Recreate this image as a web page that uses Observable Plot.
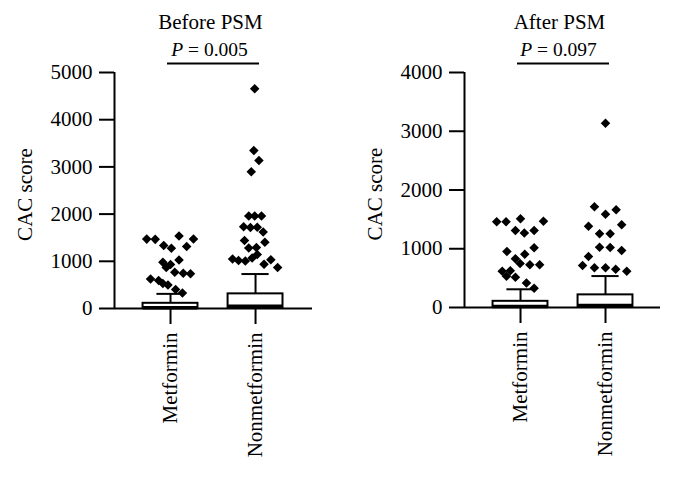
<!DOCTYPE html>
<html><head><meta charset="utf-8">
<script src="https://cdn.jsdelivr.net/npm/d3@7"></script>
<script src="https://cdn.jsdelivr.net/npm/@observablehq/plot@0.6"></script>
<style>
body{margin:0;background:#fff;}
#chart{display:flex;width:675px;height:480px;}
</style></head><body><div id="chart"></div>
<script>
// ---- data ----
const categories = ["Metformin", "Nonmetformin"];
const panelTitles = ["Before PSM", "After PSM"];
const pValues = ["0.005", "0.097"];
const yLabel = "CAC score";
const beforeTicks = [0, 1000, 2000, 3000, 4000, 5000];
const afterTicks = [0, 1000, 2000, 3000, 4000];

// box-plot summaries [Metformin, Nonmetformin]
const beforeQ1 = [0, 0];
const beforeMedian = [15, 50];
const beforeQ3 = [110, 310];
const beforeWhiskerHigh = [310, 730];
const afterQ1 = [0, 0];
const afterMedian = [15, 35];
const afterQ3 = [105, 215];
const afterWhiskerHigh = [310, 535];

// outliers (values) and their horizontal scatter (category units)
const beforeMetValues = [1470, 1465, 1335, 1278, 1535, 1314, 1472, 981, 932, 1027, 869, 769, 748, 735, 625, 593, 530, 498, 403, 328];
const beforeMetJitter = [-0.28, -0.18, -0.08, 0.01, 0.10, 0.19, 0.27, -0.09, 0.0, 0.10, -0.05, 0.05, 0.15, 0.235, -0.235, -0.14, -0.09, -0.03, 0.06, 0.14];
const beforeNonValues = [4655, 3347, 3136, 2896, 1960, 1960, 1960, 1730, 1716, 1723, 1620, 1440, 1405, 1282, 1292, 1049, 1017, 1006, 1070, 1144, 939, 1031, 869];
const beforeNonJitter = [-0.01, -0.02, 0.04, -0.05, -0.08, -0.01, 0.07, -0.14, -0.06, 0.02, 0.09, -0.13, 0.11, -0.08, 0.01, -0.27, -0.20, -0.12, -0.04, 0.02, 0.10, 0.18, 0.26];
const afterMetValues = [1459, 1459, 1510, 1469, 1311, 1268, 1311, 953, 907, 1016, 829, 749, 729, 729, 616, 625, 531, 516, 417, 327];
const afterMetJitter = [-0.28, -0.17, 0.0, 0.27, -0.06, 0.045, 0.16, -0.16, 0.05, 0.16, -0.06, -0.005, 0.11, 0.225, -0.215, -0.12, -0.165, -0.06, 0.07, 0.16];
const afterNonValues = [3137, 1714, 1586, 1663, 1384, 1408, 1254, 1254, 1027, 1021, 970, 868, 715, 676, 676, 650, 618];
const afterNonJitter = [0.0, -0.13, 0.0, 0.125, -0.2, 0.19, -0.07, 0.055, -0.07, 0.055, 0.19, -0.2, -0.27, -0.13, 0.0, 0.12, 0.25];

// ---- drawing ----
const boxHalf = 0.323, capHalf = 0.16;
const FS = 21;

function panel(cfg) {
  const boxes = categories.map((c, i) => ({
    x: i + 1, q1: cfg.q1[i], med: cfg.med[i], q3: cfg.q3[i], whisk: cfg.whisk[i]
  }));
  const points = [];
  cfg.outliers.forEach((o, i) => o.values.forEach((v, j) => points.push({x: i + 1 + o.jitter[j], y: v})));
  const yMax = cfg.ticks[cfg.ticks.length - 1];
  const svg = Plot.plot({
    width: cfg.width, height: 480,
    marginTop: 72, marginLeft: cfg.marginLeft, marginRight: cfg.marginRight, marginBottom: cfg.marginBottom,
    style: {fontSize: FS + "px", fontFamily: "'Liberation Serif', serif", color: "black", background: "white", overflow: "visible"},
    x: {domain: cfg.xDomain, axis: null},
    y: {domain: [0, yMax], axis: null},
    marks: [
      Plot.ruleX([cfg.xDomain[0]], {strokeWidth: 2}),
      Plot.ruleY([0], {strokeWidth: 2}),
      Plot.ruleX(boxes, {x: "x", y1: "q3", y2: "whisk", strokeWidth: 2}),
      Plot.ruleY(boxes, {y: "whisk", x1: d => d.x - capHalf, x2: d => d.x + capHalf, strokeWidth: 2}),
      Plot.rect(boxes, {x1: d => d.x - boxHalf, x2: d => d.x + boxHalf, y1: "q1", y2: "q3", fill: "white", stroke: "black", strokeWidth: 2}),
      Plot.ruleY(boxes, {y: "med", x1: d => d.x - boxHalf, x2: d => d.x + boxHalf, strokeWidth: 3.5}),
      Plot.dot(points, {x: "x", y: "y", symbol: "diamond2", r: 4.3, fill: "black", stroke: null}),
      Plot.axisY(cfg.ticks, {tickSize: 15, tickPadding: 7, strokeWidth: 2, fontSize: FS, tickFormat: d => String(d), label: null}),
      Plot.text([yLabel], {frameAnchor: "left", textAnchor: "middle", lineAnchor: "middle", rotate: -90, dx: cfg.labelDx, dy: 4, fontSize: 21}),
      Plot.axisX(boxes.map(b => b.x), {tickFormat: d => categories[d - 1], tickSize: 16, tickPadding: 8, tickRotate: -90, strokeWidth: 2, fontSize: FS, label: null}),
      Plot.ruleY([{from: 1, to: categories.length, y: yMax}], {y: "y", x1: "from", x2: "to", dy: -9, insetLeft: -3, insetRight: -4, strokeWidth: 2}),
      Plot.text([cfg.title], {frameAnchor: "top", lineAnchor: "bottom", dx: -3, dy: -44, fontSize: 21}),
      Plot.text(["P = " + cfg.p], {frameAnchor: "top", lineAnchor: "bottom", dx: -4, dy: -17, fontSize: 19.5})
    ]
  });
  svg.querySelectorAll("text").forEach(t => {
    if (t.textContent.startsWith("P = ") && t.children.length === 0) {
      const rest = t.textContent.slice(1);
      t.textContent = "";
      const a = document.createElementNS("http://www.w3.org/2000/svg", "tspan");
      a.setAttribute("font-style", "italic"); a.textContent = "P";
      const b = document.createElementNS("http://www.w3.org/2000/svg", "tspan");
      b.textContent = rest;
      t.appendChild(a); t.appendChild(b);
    }
  });
  return svg;
}

const chart = document.getElementById("chart");
chart.appendChild(panel({
  title: panelTitles[0], p: pValues[0], ticks: beforeTicks,
  q1: beforeQ1, med: beforeMedian, q3: beforeQ3, whisk: beforeWhiskerHigh,
  outliers: [{values: beforeMetValues, jitter: beforeMetJitter}, {values: beforeNonValues, jitter: beforeNonJitter}],
  width: 337, marginLeft: 114, marginRight: 25, marginBottom: 172, xDomain: [0.341, 2.67], labelDx: -89.5
}));
chart.appendChild(panel({
  title: panelTitles[1], p: pValues[1], ticks: afterTicks,
  q1: afterQ1, med: afterMedian, q3: afterQ3, whisk: afterWhiskerHigh,
  outliers: [{values: afterMetValues, jitter: afterMetJitter}, {values: afterNonValues, jitter: afterNonJitter}],
  width: 338, marginLeft: 127, marginRight: 15, marginBottom: 173, xDomain: [0.341, 2.647], labelDx: -89
}));
</script></body></html>
